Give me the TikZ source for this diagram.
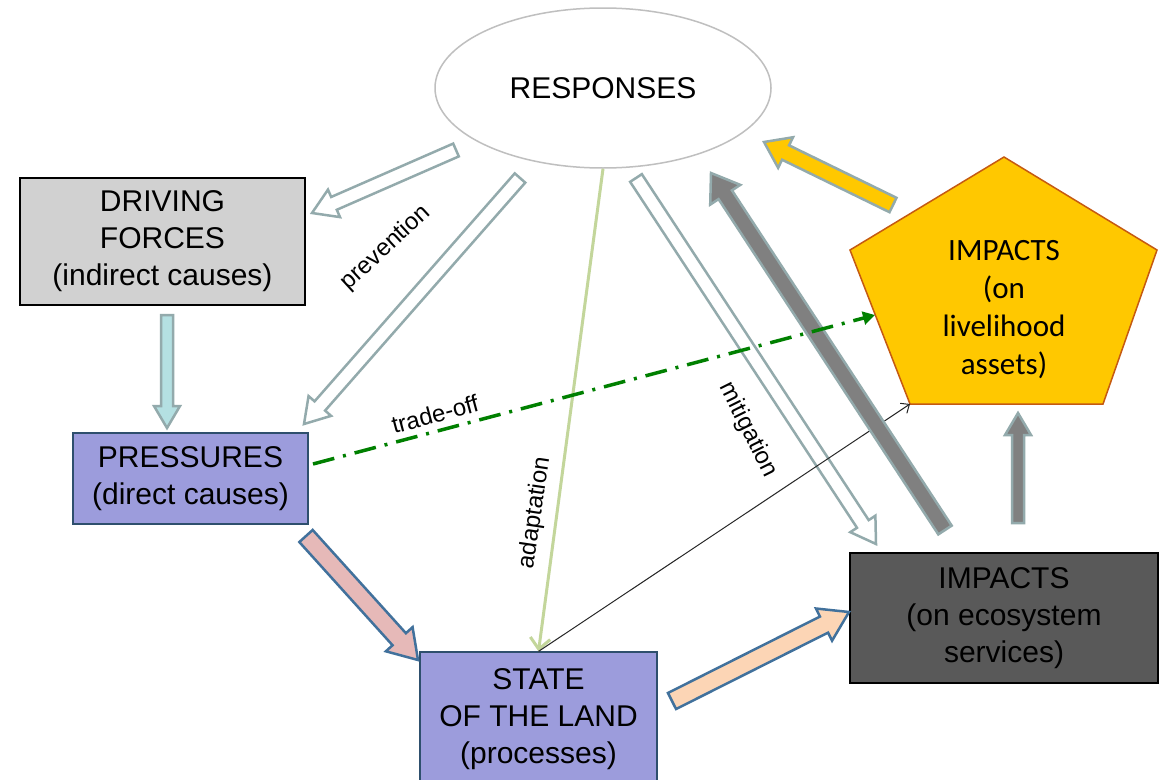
\documentclass[tikz,border=0pt]{standalone}
\usepackage{fontspec}
\setmainfont{Liberation Sans}
\newfontfamily\calibri{Carlito}
\usetikzlibrary{shapes.geometric, arrows.meta, calc}

\definecolor{tealgray}{HTML}{93AAAC}
\definecolor{bluedge}{HTML}{41719C}
\definecolor{lavender}{HTML}{9C9CDC}
\definecolor{pengold}{HTML}{FFC800}
\definecolor{penedge}{HTML}{C55A11}
\definecolor{adaptgreen}{HTML}{C3D69B}
\definecolor{tradegreen}{HTML}{008000}
\definecolor{pinkfill}{HTML}{E6B9B8}
\definecolor{peachfill}{HTML}{FCD5B5}
\definecolor{aquafill}{HTML}{B4E0E2}

% block arrow: [style]{tail}{tip}{shaft half width}{head half width}{head length}
\newcommand{\blockarrow}[6][]{%
  \coordinate (ba-h) at ($(#3)!#6!(#2)$);
  \draw[#1] ($(#2)!#4!90:(#3)$) -- ($(ba-h)!#4!90:(#3)$) -- ($(ba-h)!#5!90:(#3)$) -- (#3)
    -- ($(ba-h)!#5!-90:(#3)$) -- ($(ba-h)!#4!-90:(#3)$) -- ($(#2)!#4!-90:(#3)$) -- cycle;
}

\begin{document}
\begin{tikzpicture}[
    x=1pt, y=-1pt,
    box/.style={rectangle, draw, line width=1.2pt, align=center, font=\fontsize{30}{37}\selectfont},
    lbl/.style={font=\fontsize{24}{28}\selectfont},
    hollow/.style={draw=tealgray, fill=white, line width=2.5pt},
    grayarrow/.style={draw=tealgray, fill=gray, line width=2.5pt},
    bluearrow/.style={draw=bluedge, line width=2.5pt}
]
\useasboundingbox[fill=white] (0,0) rectangle (1166,779);

% Nodes
\node[ellipse, draw=black!25, line width=1.5pt, minimum width=336, minimum height=160,
      font=\fontsize{30}{37}\selectfont] (resp) at (603,88) {RESPONSES};
\node[box, fill=black!18, minimum width=285, minimum height=127] (driving) at (162.5,241.5)
    {DRIVING\\FORCES\\(indirect causes)};
\node[box, draw=bluedge!70!black, fill=lavender, minimum width=235, minimum height=91] (pressures) at (190.5,478.5)
    {PRESSURES\\(direct causes)};
\node[box, draw=bluedge!70!black, fill=lavender, minimum width=237, minimum height=134] (state) at (538.5,719)
    {STATE\\OF THE LAND\\(processes)};
\node[box, fill=black!65, minimum width=308, minimum height=130] (ecosys) at (1004,618)
    {IMPACTS\\(on ecosystem\\services)};

\draw[draw=penedge, fill=pengold, line width=1.5pt]
    (1004,157) -- (1157,250) -- (1103,404) -- coordinate[pos=1] (pent-bl) (910,404) -- (850,250) -- cycle;
\node[align=center, font=\calibri\fontsize{31}{38}\selectfont] (livelihood) at (1004,310)
    {IMPACTS\\(on\\livelihood\\assets)};

% Arrow ends
\coordinate (rd-tail) at (456,150);   \coordinate (rd-tip) at (312,213);
\coordinate (rp-tail) at (520,178);   \coordinate (rp-tip) at (304,424);
\coordinate (re-tail) at (636,178);   \coordinate (re-tip) at (876,544);
\coordinate (er-tail) at (945,530);   \coordinate (er-tip) at (711,173);
\coordinate (lr-tail) at (893,205);   \coordinate (lr-tip) at (764,142);
\coordinate (el-tail) at (1018,523);  \coordinate (el-tip) at (1018,413);
\coordinate (dp-tail) at (167,315);   \coordinate (dp-tip) at (167,428);
\coordinate (ps-tail) at (306,536);   \coordinate (ps-tip) at (418,660);
\coordinate (se-tail) at (672,701);   \coordinate (se-tip) at (849,612);
\coordinate (trade-start) at (313,464);
\coordinate (trade-end) at (875,315);

% Arrows
\blockarrow[hollow]{rd-tail}{rd-tip}{7pt}{15pt}{24pt}
\blockarrow[hollow]{rp-tail}{rp-tip}{7pt}{15pt}{24pt}
\blockarrow[hollow]{re-tail}{re-tip}{7pt}{15pt}{24pt}

\draw[adaptgreen, line width=3pt, -{Straight Barb[length=11pt, width=20pt]}] (resp.south) -- (state.north);
\draw[black!85, line width=1pt, -{Straight Barb[length=7pt, width=12pt]}] (state.north) -- (pent-bl);

\blockarrow[grayarrow]{er-tail}{er-tip}{8pt}{18pt}{26pt}
\blockarrow[grayarrow, fill=pengold]{lr-tail}{lr-tip}{8pt}{17pt}{24pt}
\blockarrow[grayarrow]{el-tail}{el-tip}{6pt}{13pt}{22pt}
\blockarrow[grayarrow, fill=aquafill]{dp-tail}{dp-tip}{6pt}{13pt}{22pt}
\blockarrow[bluearrow, fill=pinkfill]{ps-tail}{ps-tip}{9pt}{18pt}{28pt}
\blockarrow[bluearrow, fill=peachfill]{se-tail}{se-tip}{9pt}{18pt}{28pt}

\draw[tradegreen, line width=3.5pt, dash pattern=on 22pt off 9pt on 3pt off 9pt,
      -{Triangle[length=12pt, width=13pt]}] (trade-start) -- (trade-end);

% Labels
\node[lbl, rotate=42.5] (prevention) at (386,248) {prevention};
\node[lbl, rotate=15] (tradeoff) at (435,414) {trade-off};
\node[lbl, rotate=81.5] (adaptation) at (535,513) {adaptation};
\node[lbl, rotate=-63.5] (mitigation) at (748,430) {mitigation};

\end{tikzpicture}
\end{document}
